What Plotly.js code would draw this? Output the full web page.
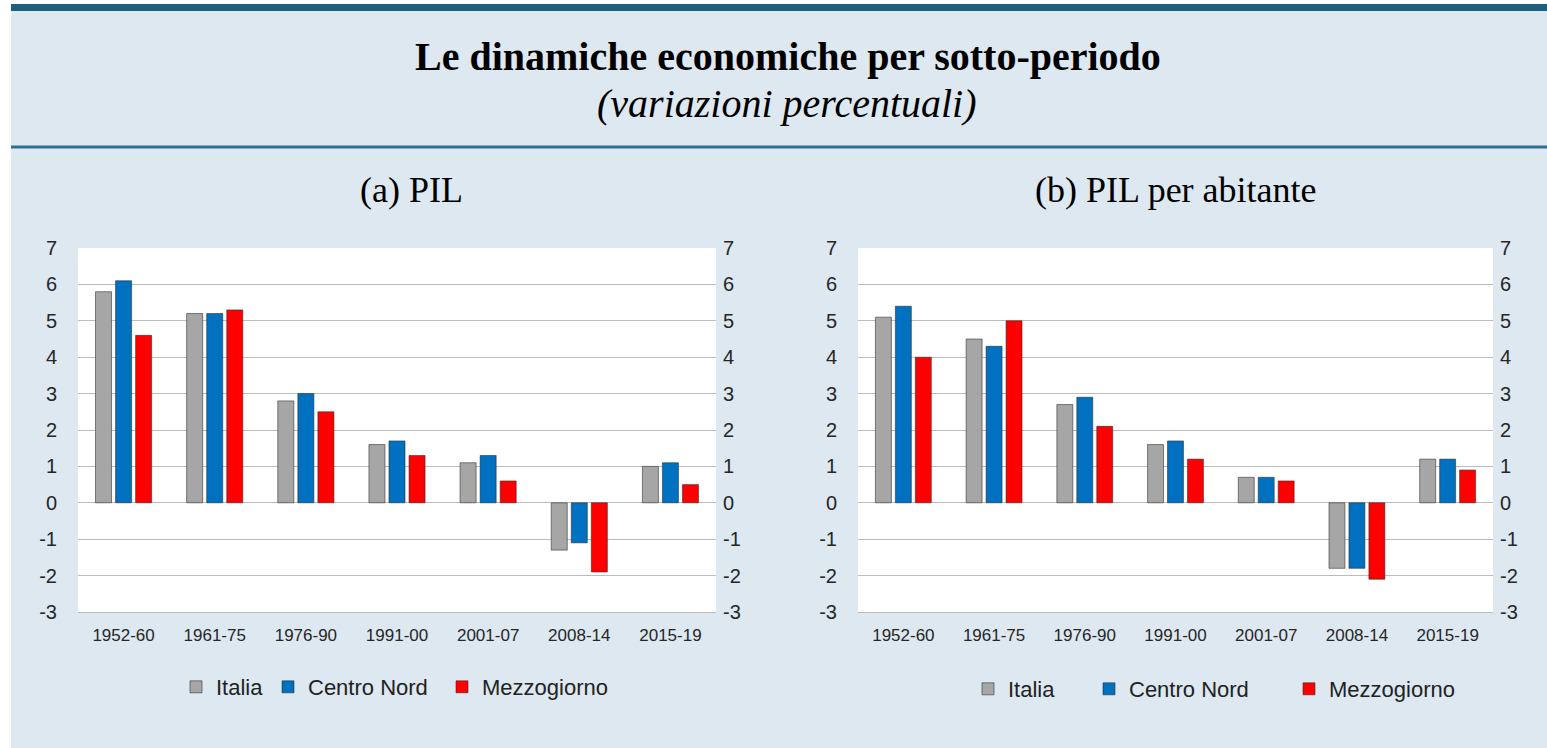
<!DOCTYPE html>
<html>
<head>
<meta charset="utf-8">
<script src="https://cdn.plot.ly/plotly-3.0.1.min.js"></script>
<style>
html,body{margin:0;padding:0;background:#ffffff;overflow:hidden;}
#chart{width:1547px;height:748px;}
</style>
</head>
<body>
<div id="chart"></div>
<script>
// ---- data ----
const periods = ["1952-60","1961-75","1976-90","1991-00","2001-07","2008-14","2015-19"];
const seriesNames = ["Italia","Centro Nord","Mezzogiorno"];
const seriesColors = ["#a6a6a6","#0070c0","#ff0000"];

// (a) PIL
const pilItalia      = [5.8, 5.2, 2.8, 1.6, 1.1, -1.3, 1.0];
const pilCentroNord  = [6.1, 5.2, 3.0, 1.7, 1.3, -1.1, 1.1];
const pilMezzogiorno = [4.6, 5.3, 2.5, 1.3, 0.6, -1.9, 0.5];

// (b) PIL per abitante
const pcItalia      = [5.1, 4.5, 2.7, 1.6, 0.7, -1.8, 1.2];
const pcCentroNord  = [5.4, 4.3, 2.9, 1.7, 0.7, -1.8, 1.2];
const pcMezzogiorno = [4.0, 5.0, 2.1, 1.2, 0.6, -2.1, 0.9];

const mainTitle = "Le dinamiche economiche per sotto-periodo";
const subTitle = "(variazioni percentuali)";
const panelTitles = ["(a) PIL", "(b) PIL per abitante"];
const yTicks = [-3,-2,-1,0,1,2,3,4,5,6,7];

// ---- layout helpers ----
const W = 1547, H = 748;
const px = v => v / W;
const py = v => 1 - v / H;

const leftSeries = [pilItalia, pilCentroNord, pilMezzogiorno];
const rightSeries = [pcItalia, pcCentroNord, pcMezzogiorno];

// one legend per entry, placed like the reference (left edge of each entry, px)
const leftLegendX = [176, 268, 442];
const rightLegendX = [968, 1089, 1289];

const traces = [];
leftSeries.forEach((vals, i) => {
  traces.push({
    type: "bar", x: periods, y: vals, name: seriesNames[i],
    xaxis: "x", yaxis: "y", legend: "legend" + (i === 0 ? "" : (i + 1)),
    marker: {color: seriesColors[i], line: {color: "rgba(40,40,40,0.55)", width: 1}},
    hoverinfo: "x+y+name"
  });
});
rightSeries.forEach((vals, i) => {
  traces.push({
    type: "bar", x: periods, y: vals, name: seriesNames[i],
    xaxis: "x2", yaxis: "y2", legend: "legend" + (i + 4),
    marker: {color: seriesColors[i], line: {color: "rgba(40,40,40,0.55)", width: 1}},
    hoverinfo: "x+y+name"
  });
});
// invisible carriers so the right-hand (mirrored) value axes are drawn
traces.push({type: "scatter", mode: "markers", x: periods, y: pilItalia, xaxis: "x", yaxis: "y3",
  marker: {opacity: 0}, showlegend: false, hoverinfo: "skip"});
traces.push({type: "scatter", mode: "markers", x: periods, y: pcItalia, xaxis: "x2", yaxis: "y4",
  marker: {opacity: 0}, showlegend: false, hoverinfo: "skip"});

const tickFontY = {family: "Liberation Sans, Arial, sans-serif", size: 20, color: "#262626"};
const tickFontX = {family: "Liberation Sans, Arial, sans-serif", size: 17, color: "#262626"};
const gridColor = "#bcbcbc";

function yAxis(domainY, extra) {
  return Object.assign({
    domain: domainY, range: [-3, 7], tickvals: yTicks, ticktext: yTicks.map(String),
    showgrid: true, gridcolor: gridColor, gridwidth: 1, zeroline: false,
    showline: false, ticks: "", tickfont: tickFontY, fixedrange: true, automargin: false
  }, extra);
}
function xAxis(domainX, anchor) {
  return {
    domain: domainX, anchor: anchor, type: "category",
    showgrid: false, zeroline: false, showline: true, linecolor: gridColor, linewidth: 1,
    ticks: "", tickfont: tickFontX, ticklabelstandoff: 8, fixedrange: true, automargin: false
  };
}

function legendAt(xPix, yPix) {
  return {
    orientation: "h", x: px(xPix), y: py(yPix), xanchor: "left", yanchor: "middle",
    bgcolor: "rgba(0,0,0,0)", borderwidth: 0, itemwidth: 30,
    itemclick: false, itemdoubleclick: false,
    font: {family: "Liberation Sans, Arial, sans-serif", size: 22, color: "#222222"}
  };
}

const yDom = [py(612), py(248)];
const layout = {
  width: W, height: H,
  margin: {l: 0, r: 0, t: 0, b: 0, pad: 0, autoexpand: false},
  paper_bgcolor: "#dde8f1",
  plot_bgcolor: "#ffffff",
  barmode: "group", bargap: 0.34, bargroupgap: 0.2,
  showlegend: true,
  xaxis: xAxis([px(78), px(716)], "y"),
  yaxis: yAxis(yDom, {anchor: "x", side: "left", ticklabelstandoff: 20}),
  yaxis3: yAxis(yDom, {anchor: "x", overlaying: "y", side: "right", showgrid: false, ticklabelstandoff: 6}),
  xaxis2: xAxis([px(858), px(1493)], "y2"),
  yaxis2: yAxis(yDom, {anchor: "x2", side: "left", ticklabelstandoff: 20}),
  yaxis4: yAxis(yDom, {anchor: "x2", overlaying: "y2", side: "right", showgrid: false, ticklabelstandoff: 6}),
  legend:  legendAt(leftLegendX[0], 687),
  legend2: legendAt(leftLegendX[1], 687),
  legend3: legendAt(leftLegendX[2], 687),
  legend4: legendAt(rightLegendX[0], 689),
  legend5: legendAt(rightLegendX[1], 689),
  legend6: legendAt(rightLegendX[2], 689),
  shapes: [
    {type: "rect", xref: "paper", yref: "paper", x0: 0, x1: px(11), y0: 0, y1: 1,
     fillcolor: "#ffffff", line: {width: 0}, layer: "below"},
    {type: "rect", xref: "paper", yref: "paper", x0: 0, x1: 1, y0: py(4), y1: 1,
     fillcolor: "#ffffff", line: {width: 0}, layer: "below"},
    {type: "rect", xref: "paper", yref: "paper", x0: px(11), x1: 1, y0: py(11), y1: py(4),
     fillcolor: "#1d5f7e", line: {width: 0}},
    {type: "rect", xref: "paper", yref: "paper", x0: px(11), x1: 1, y0: py(148.5), y1: py(145.5),
     fillcolor: "#2f7090", line: {width: 0}}
  ],
  annotations: [
    {text: "<b>" + mainTitle + "</b>", xref: "paper", yref: "paper", x: px(788), y: py(57),
     xanchor: "center", yanchor: "middle", showarrow: false,
     font: {family: "Liberation Serif, Times New Roman, serif", size: 40, color: "#000000"}},
    {text: "<i>" + subTitle + "</i>", xref: "paper", yref: "paper", x: px(787), y: py(103),
     xanchor: "center", yanchor: "middle", showarrow: false,
     font: {family: "Liberation Serif, Times New Roman, serif", size: 40, color: "#000000"}},
    {text: panelTitles[0], xref: "paper", yref: "paper", x: px(411), y: py(190),
     xanchor: "center", yanchor: "middle", showarrow: false,
     font: {family: "Liberation Serif, Times New Roman, serif", size: 36, color: "#000000"}},
    {text: panelTitles[1], xref: "paper", yref: "paper", x: px(1176), y: py(190),
     xanchor: "center", yanchor: "middle", showarrow: false,
     font: {family: "Liberation Serif, Times New Roman, serif", size: 36, color: "#000000"}}
  ]
};

Plotly.newPlot("chart", traces, layout, {displayModeBar: false});
</script>
</body>
</html>
